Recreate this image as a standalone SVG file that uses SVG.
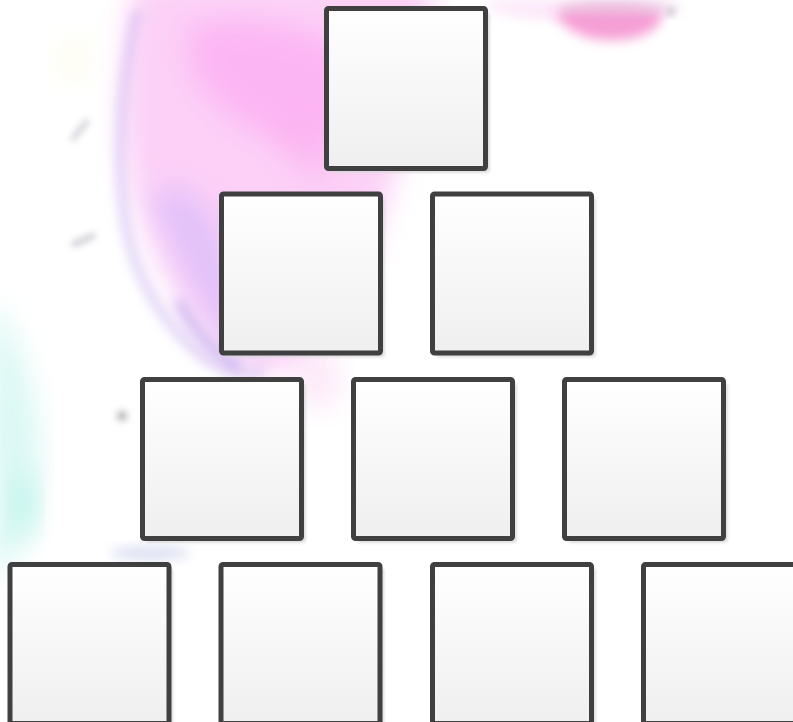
<svg xmlns="http://www.w3.org/2000/svg" width="793" height="722" viewBox="0 0 793 722">
  <style>
    .box { fill: url(#boxFill); stroke: #404040; stroke-width: 5; }
    .shadow { fill: #d8d8d8; filter: url(#shBlur); }
  </style>
  <defs>
    <linearGradient id="boxFill" x1="0" y1="0" x2="0" y2="1">
      <stop offset="0" stop-color="#ffffff"/>
      <stop offset="1" stop-color="#efefef"/>
    </linearGradient>
    <filter id="shBlur" x="-10%" y="-10%" width="120%" height="120%">
      <feGaussianBlur stdDeviation="1.5"/>
    </filter>
    <filter id="wash" x="-30%" y="-30%" width="160%" height="160%">
      <feGaussianBlur stdDeviation="14"/>
    </filter>
    <filter id="washS" x="-40%" y="-40%" width="180%" height="180%">
      <feGaussianBlur stdDeviation="6"/>
    </filter>
    <filter id="washXS" x="-80%" y="-80%" width="260%" height="260%">
      <feGaussianBlur stdDeviation="3.5"/>
    </filter>
  </defs>

  <rect width="793" height="722" fill="#ffffff"/>

  <g id="background">
    <!-- large pink/lilac wash -->
    <path d="M135,-20 L430,-20 C440,60 410,130 390,190 C370,260 340,330 300,365 C260,380 225,365 195,325 C155,265 128,200 124,130 C122,70 128,25 135,-20 Z" fill="#fcd0f7" filter="url(#wash)"/>
    <path d="M190,25 C250,15 320,25 360,60 C370,110 345,150 305,150 C255,140 215,110 190,70 Z" fill="#fca8f2" opacity="0.65" filter="url(#wash)"/>
    <path d="M280,110 C310,100 340,130 335,170 C320,190 290,170 280,140 Z" fill="#fbb4ef" opacity="0.6" filter="url(#wash)"/>
    <path d="M150,200 C170,240 190,290 220,335 C240,355 260,360 268,345 C250,305 230,255 210,215 C190,185 165,180 150,200 Z" fill="#d7bcfb" opacity="0.7" filter="url(#wash)"/>
    <!-- purple rim of the wash -->
    <path d="M138,10 C122,70 116,150 124,215 C132,275 160,320 200,355 C220,370 245,378 265,372" fill="none" stroke="#c0a6ec" stroke-width="8" opacity="0.55" filter="url(#washS)"/>
    <path d="M178,300 C192,330 212,352 240,368" fill="none" stroke="#a98ee6" stroke-width="9" opacity="0.55" filter="url(#washS)"/>
    <!-- pink streak top right -->
    <path d="M550,10 C585,2 640,2 662,10 C665,25 648,38 620,40 C590,42 568,34 550,10 Z" fill="#f48fcf" opacity="0.85" filter="url(#washS)"/>
    <path d="M560,2 C600,-2 650,-2 678,4 L678,14 C640,14 590,14 560,12 Z" fill="#e6c8e2" opacity="0.6" filter="url(#washS)"/>
    <path d="M490,0 L560,0 L560,20 C530,20 505,15 490,10 Z" fill="#fbe0f7" opacity="0.7" filter="url(#washS)"/>
    <circle cx="671" cy="12" r="3" fill="#a0a0a0" opacity="0.8" filter="url(#washXS)"/>
    <!-- faint pink near row 3 -->
    <ellipse cx="318" cy="380" rx="22" ry="30" fill="#fbdaf5" opacity="0.6" filter="url(#wash)"/>
    <!-- cyan wash lower left -->
    <path d="M-10,300 C20,330 40,400 40,470 C40,520 30,555 -10,575 Z" fill="#d4f7f2" opacity="0.85" filter="url(#wash)"/>
    <ellipse cx="25" cy="505" rx="12" ry="32" fill="#a8f0e4" opacity="0.55" filter="url(#wash)"/>
    <ellipse cx="150" cy="553" rx="40" ry="7" fill="#cdd3ec" opacity="0.7" filter="url(#washS)"/>
    <ellipse cx="75" cy="60" rx="20" ry="25" fill="#fdfcec" opacity="0.7" filter="url(#wash)"/>
    <!-- gray smudges -->
    <path d="M72,140 L88,120" stroke="#9a9aa8" stroke-width="4" opacity="0.6" filter="url(#washXS)"/>
    <path d="M72,245 L95,235" stroke="#9a9aa8" stroke-width="5" opacity="0.6" filter="url(#washXS)"/>
    <circle cx="122" cy="416" r="5" fill="#909090" opacity="0.7" filter="url(#washXS)"/>
    <path d="M190,595 L190,665" stroke="#c2c6d2" stroke-width="5" opacity="0.8" filter="url(#washXS)"/>
  </g>

  <!-- row 1 -->
  <g id="node-1"><rect class="shadow" x="330.5" y="12.5" width="159" height="160" rx="2"/><rect class="box" x="326.5" y="8.5" width="159" height="160" rx="2"/></g>
  <!-- row 2 -->
  <g id="node-2"><rect class="shadow" x="225.5" y="198" width="159" height="159" rx="2"/><rect class="box" x="221.5" y="194" width="159" height="159" rx="2"/></g>
  <g id="node-3"><rect class="shadow" x="436.5" y="198" width="159" height="159" rx="2"/><rect class="box" x="432.5" y="194" width="159" height="159" rx="2"/></g>
  <!-- row 3 -->
  <g id="node-4"><rect class="shadow" x="146.5" y="383.5" width="159" height="159" rx="2"/><rect class="box" x="142.5" y="379.5" width="159" height="159" rx="2"/></g>
  <g id="node-5"><rect class="shadow" x="357.5" y="383.5" width="159" height="159" rx="2"/><rect class="box" x="353.5" y="379.5" width="159" height="159" rx="2"/></g>
  <g id="node-6"><rect class="shadow" x="568.5" y="383.5" width="159" height="159" rx="2"/><rect class="box" x="564.5" y="379.5" width="159" height="159" rx="2"/></g>
  <!-- row 4 -->
  <g id="node-7"><rect class="shadow" x="14" y="568.5" width="159" height="159" rx="2"/><rect class="box" x="10" y="564.5" width="159" height="159" rx="2"/></g>
  <g id="node-8"><rect class="shadow" x="225" y="568.5" width="159" height="159" rx="2"/><rect class="box" x="221" y="564.5" width="159" height="159" rx="2"/></g>
  <g id="node-9"><rect class="shadow" x="436.5" y="568.5" width="159" height="159" rx="2"/><rect class="box" x="432.5" y="564.5" width="159" height="159" rx="2"/></g>
  <g id="node-10"><rect class="shadow" x="647.5" y="568.5" width="159" height="159" rx="2"/><rect class="box" x="643.5" y="564.5" width="159" height="159" rx="2"/></g>

  <g id="connectors"></g>
</svg>
